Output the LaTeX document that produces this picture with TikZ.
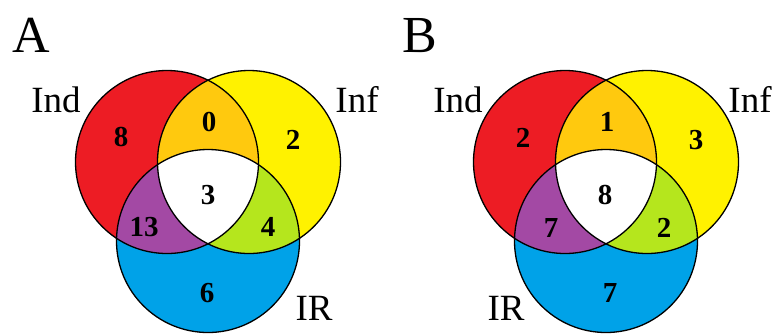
\documentclass[tikz,border=0pt]{standalone}
\usepackage{fontspec}
\setmainfont{Liberation Serif}
\definecolor{IndRed}{HTML}{ED1C24}
\definecolor{InfYellow}{HTML}{FFF200}
\definecolor{IRBlue}{HTML}{00A2E8}
\definecolor{IndInf}{HTML}{FFC90E}
\definecolor{IndIR}{HTML}{A349A4}
\definecolor{InfIR}{HTML}{B5E61D}

% three circles of one panel, shifted by #1
\newcommand{\vennpanel}[1]{%
  \begin{scope}[xshift=#1]
    \coordinate (ind) at (167,162);
    \coordinate (inf) at (249,162);
    \coordinate (ir)  at (208,241);
    \fill[IndRed]    (ind) circle[radius=\rad];
    \fill[InfYellow] (inf) circle[radius=\rad];
    \fill[IRBlue]    (ir)  circle[radius=\rad];
    \begin{scope}
      \clip (ind) circle[radius=\rad];
      \fill[IndInf] (inf) circle[radius=\rad];
      \fill[IndIR]  (ir)  circle[radius=\rad];
    \end{scope}
    \begin{scope}
      \clip (inf) circle[radius=\rad];
      \fill[InfIR] (ir) circle[radius=\rad];
      \clip (ind) circle[radius=\rad];
      \fill[white] (ir) circle[radius=\rad];
    \end{scope}
    \draw[ring] (ind) circle[radius=\rad];
    \draw[ring] (inf) circle[radius=\rad];
    \draw[ring] (ir)  circle[radius=\rad];
  \end{scope}}
\newcommand{\rad}{91.5pt}

\begin{document}
\begin{tikzpicture}[x=1pt, y=-1pt,
  ring/.style={draw=black, line width=1.3pt},
  tag/.style={anchor=base, inner sep=0pt, font=\fontsize{52}{52}\selectfont},
  set/.style={anchor=base, inner sep=0pt, font=\fontsize{37}{37}\selectfont},
  num/.style={inner sep=0pt, font=\fontsize{29}{29}\selectfont\bfseries}]
  \useasboundingbox (0,0) rectangle (781,333);

  % panel A
  \vennpanel{0pt}
  \node[tag] (tagA) at (31,52)   {A};
  \node[set] (indA) at (56,112)  {Ind};
  \node[set] (infA) at (357,112) {Inf};
  \node[set] (irA)  at (314,320) {IR};
  \node[num] (a1) at (121,137) {8};
  \node[num] (a2) at (209,122) {0};
  \node[num] (a3) at (293,140) {2};
  \node[num] (a4) at (208,195) {3};
  \node[num] (a5) at (144,227) {13};
  \node[num] (a6) at (268,227) {4};
  \node[num] (a7) at (207,293) {6};

  % panel B
  \vennpanel{398pt}
  \node[tag] (tagB) at (420,52)  {B};
  \node[set] (indB) at (458,112) {Ind};
  \node[set] (infB) at (750,112) {Inf};
  \node[set] (irB)  at (506,320) {IR};
  \node[num] (b1) at (523,138) {2};
  \node[num] (b2) at (607,122) {1};
  \node[num] (b3) at (696,140) {3};
  \node[num] (b4) at (605,195) {8};
  \node[num] (b5) at (551,228) {7};
  \node[num] (b6) at (664,228) {2};
  \node[num] (b7) at (610,293) {7};
\end{tikzpicture}
\end{document}
